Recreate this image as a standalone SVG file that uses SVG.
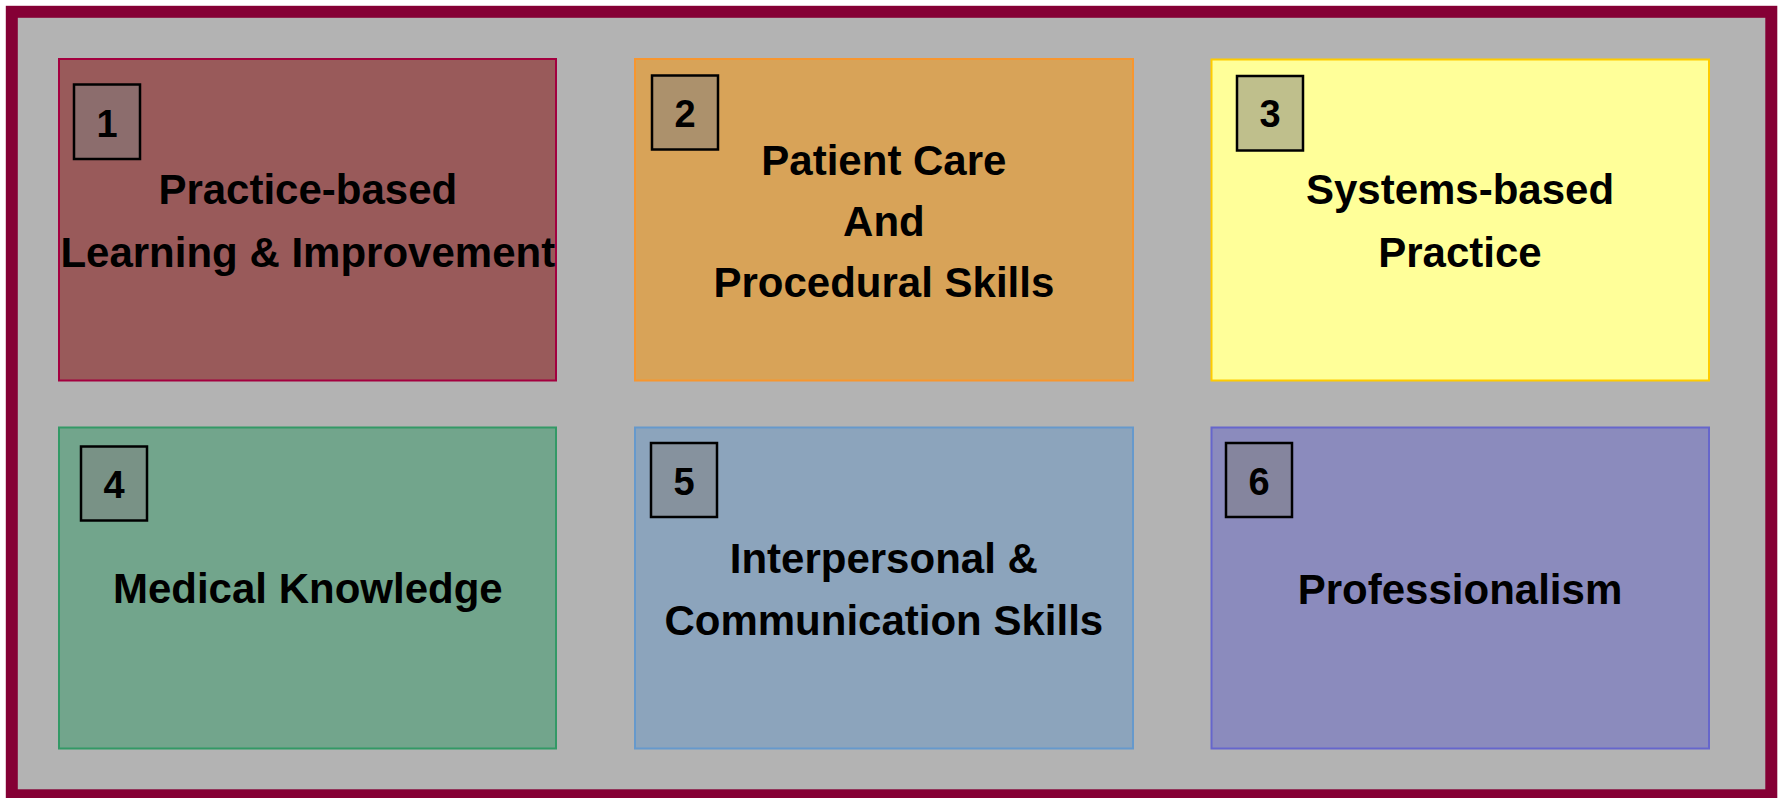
<svg xmlns="http://www.w3.org/2000/svg" width="1782" height="798" viewBox="0 0 1782 798">
  <style>
    .card { stroke-width: 2; }
    .badge { fill: #808080; fill-opacity: 0.5; stroke: #000000; stroke-width: 2.5; }
    .num { font-family: "Liberation Sans", Arial, sans-serif; font-weight: bold; font-size: 38px; fill: #000000; text-anchor: middle; }
    .label { font-family: "Liberation Sans", Arial, sans-serif; font-weight: bold; font-size: 42px; fill: #000000; text-anchor: middle; }
  </style>

  <!-- page background and maroon frame -->
  <rect x="0" y="0" width="1782" height="798" fill="#ffffff"/>
  <rect x="11.8" y="11.8" width="1759.5" height="783.5" fill="#b3b3b3" stroke="#850035" stroke-width="12"/>

  <!-- 1: Practice-based Learning & Improvement -->
  <g id="node-1">
    <rect class="card" x="59" y="59" width="497" height="321.5" fill="#995a5a" stroke="#a3003f"/>
    <rect class="badge" x="74" y="84.5" width="66" height="74.5"/>
    <text class="num" x="107" y="136.5">1</text>
    <text class="label" x="307.8" y="204.3">Practice-based</text>
    <text class="label" x="307.8" y="267.3">Learning &amp; Improvement</text>
  </g>

  <!-- 2: Patient Care And Procedural Skills -->
  <g id="node-2">
    <rect class="card" x="635" y="59" width="498" height="321.5" fill="#d8a358" stroke="#f7962f"/>
    <rect class="badge" x="652" y="75.5" width="66" height="74"/>
    <text class="num" x="685" y="126.7">2</text>
    <text class="label" x="883.9" y="175">Patient Care</text>
    <text class="label" x="883.9" y="235.7">And</text>
    <text class="label" x="883.9" y="296.7">Procedural Skills</text>
  </g>

  <!-- 3: Systems-based Practice -->
  <g id="node-3">
    <rect class="card" x="1211.5" y="59.5" width="497.5" height="321" fill="#ffff99" stroke="#ffcc00"/>
    <rect class="badge" x="1237" y="76" width="66" height="74.5"/>
    <text class="num" x="1270" y="127.3">3</text>
    <text class="label" x="1460" y="204">Systems-based</text>
    <text class="label" x="1460" y="266.7">Practice</text>
  </g>

  <!-- 4: Medical Knowledge -->
  <g id="node-4">
    <rect class="card" x="59" y="427.5" width="497" height="321" fill="#72a58c" stroke="#339966"/>
    <rect class="badge" x="81" y="446.5" width="66" height="74"/>
    <text class="num" x="114" y="498">4</text>
    <text class="label" x="307.8" y="603.3">Medical Knowledge</text>
  </g>

  <!-- 5: Interpersonal & Communication Skills -->
  <g id="node-5">
    <rect class="card" x="635" y="427.5" width="498" height="321" fill="#8ca4bc" stroke="#6699cc"/>
    <rect class="badge" x="651" y="443" width="66" height="74"/>
    <text class="num" x="684" y="494.7">5</text>
    <text class="label" x="883.8" y="573">Interpersonal &amp;</text>
    <text class="label" x="883.8" y="634.7">Communication Skills</text>
  </g>

  <!-- 6: Professionalism -->
  <g id="node-6">
    <rect class="card" x="1211.5" y="427.5" width="497.5" height="321" fill="#8b8bbd" stroke="#6666cc"/>
    <rect class="badge" x="1226" y="443" width="66" height="74"/>
    <text class="num" x="1259" y="494.7">6</text>
    <text class="label" x="1460" y="604">Professionalism</text>
  </g>

  <!-- no connectors between the cards -->
  <g id="connectors"/>
</svg>
